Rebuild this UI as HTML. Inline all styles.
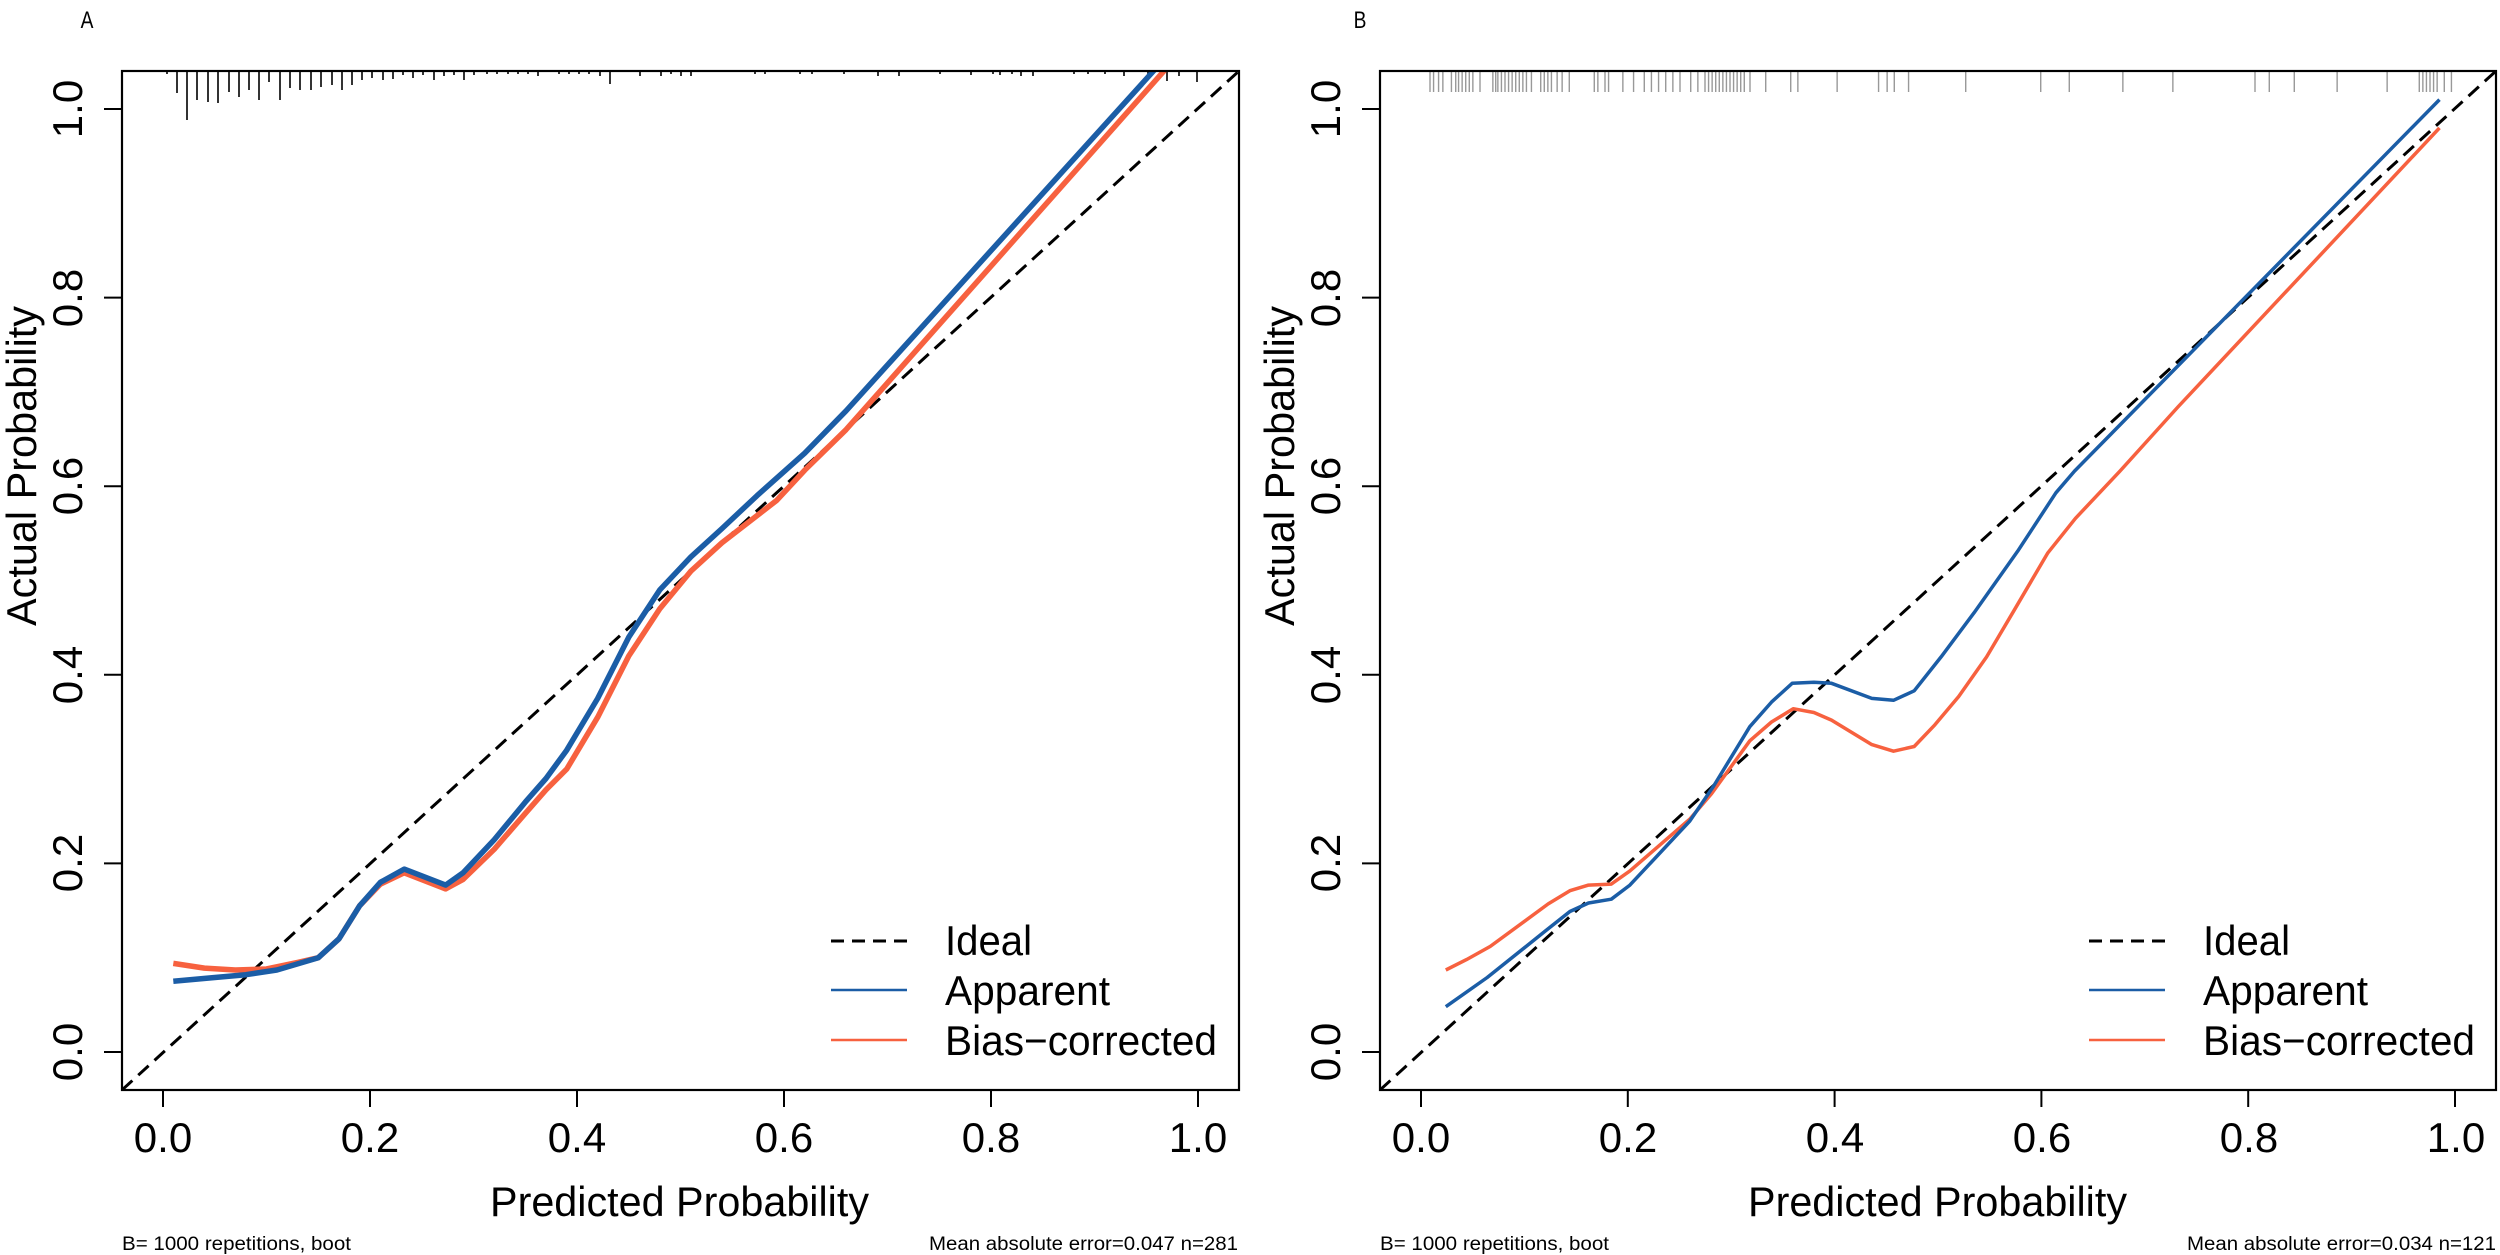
<!DOCTYPE html>
<html><head><meta charset="utf-8">
<style>
html,body{margin:0;padding:0;background:#fff;}
svg{display:block;}
text{font-family:"Liberation Sans",Arial,sans-serif;fill:#000;}
</style></head>
<body>
<svg id="s" width="2500" height="1255" viewBox="0 0 2500 1255" xmlns="http://www.w3.org/2000/svg">
<defs>
<clipPath id="cA"><rect x="122" y="71" width="1117" height="1019"/></clipPath>
<clipPath id="cB"><rect x="1380" y="71" width="1116" height="1019"/></clipPath>
</defs>
<g id="rugA" stroke="#000" stroke-width="1.6"></g>
<g id="rugB" stroke="#999" stroke-width="1.4"></g>
<g id="curves"></g>
<rect x="122" y="71" width="1117" height="1019" fill="none" stroke="#000" stroke-width="2.2"/>
<rect x="1380" y="71" width="1116" height="1019" fill="none" stroke="#000" stroke-width="2.2"/>
<g id="ticks" stroke="#000" stroke-width="2"></g>

<text x="87" y="28" font-size="24" text-anchor="middle" transform="translate(87,0) scale(0.8,1) translate(-87,0)">A</text>
<text x="1360" y="28" font-size="24" text-anchor="middle" transform="translate(1360,0) scale(0.8,1) translate(-1360,0)">B</text>

<g font-size="42" text-anchor="middle">
<text x="163" y="1152">0.0</text><text x="370" y="1152">0.2</text><text x="577" y="1152">0.4</text><text x="784" y="1152">0.6</text><text x="991" y="1152">0.8</text><text x="1198" y="1152">1.0</text>
<text x="1421" y="1152">0.0</text><text x="1628" y="1152">0.2</text><text x="1835" y="1152">0.4</text><text x="2042" y="1152">0.6</text><text x="2249" y="1152">0.8</text><text x="2456" y="1152">1.0</text>
</g>
<g font-size="42" text-anchor="middle">
<text transform="translate(82,1052) rotate(-90)">0.0</text>
<text transform="translate(82,863) rotate(-90)">0.2</text>
<text transform="translate(82,675) rotate(-90)">0.4</text>
<text transform="translate(82,486) rotate(-90)">0.6</text>
<text transform="translate(82,298) rotate(-90)">0.8</text>
<text transform="translate(82,109) rotate(-90)">1.0</text>
<text transform="translate(1340,1052) rotate(-90)">0.0</text>
<text transform="translate(1340,863) rotate(-90)">0.2</text>
<text transform="translate(1340,675) rotate(-90)">0.4</text>
<text transform="translate(1340,486) rotate(-90)">0.6</text>
<text transform="translate(1340,298) rotate(-90)">0.8</text>
<text transform="translate(1340,109) rotate(-90)">1.0</text>
</g>
<g font-size="42">
<text x="490" y="1216" textLength="379" lengthAdjust="spacingAndGlyphs">Predicted Probability</text>
<text x="1748" y="1216" textLength="379" lengthAdjust="spacingAndGlyphs">Predicted Probability</text>
<text transform="translate(36,626) rotate(-90)" textLength="320" lengthAdjust="spacingAndGlyphs">Actual Probability</text>
<text transform="translate(1294,626) rotate(-90)" textLength="320" lengthAdjust="spacingAndGlyphs">Actual Probability</text>
</g>
<g font-size="19">
<text x="122" y="1250" textLength="229" lengthAdjust="spacingAndGlyphs">B= 1000 repetitions, boot</text>
<text x="929" y="1250" textLength="309" lengthAdjust="spacingAndGlyphs">Mean absolute error=0.047 n=281</text>
<text x="1380" y="1250" textLength="229" lengthAdjust="spacingAndGlyphs">B= 1000 repetitions, boot</text>
<text x="2187" y="1250" textLength="309" lengthAdjust="spacingAndGlyphs">Mean absolute error=0.034 n=121</text>
</g>
<g>
<line x1="831" y1="941" x2="907" y2="941" stroke="#000" stroke-width="3" stroke-dasharray="13,8"/>
<line x1="831" y1="990" x2="907" y2="990" stroke="#1B5DA6" stroke-width="2.5"/>
<line x1="831" y1="1040" x2="907" y2="1040" stroke="#F7613F" stroke-width="2.5"/>
<g font-size="42">
<text x="945" y="955" textLength="87" lengthAdjust="spacingAndGlyphs">Ideal</text>
<text x="945" y="1005" textLength="165" lengthAdjust="spacingAndGlyphs">Apparent</text>
<text x="945" y="1055" textLength="272" lengthAdjust="spacingAndGlyphs">Bias−corrected</text>
</g>
</g>
<g transform="translate(1258,0)">
<line x1="831" y1="941" x2="907" y2="941" stroke="#000" stroke-width="3" stroke-dasharray="13,8"/>
<line x1="831" y1="990" x2="907" y2="990" stroke="#1B5DA6" stroke-width="2.5"/>
<line x1="831" y1="1040" x2="907" y2="1040" stroke="#F7613F" stroke-width="2.5"/>
<g font-size="42">
<text x="945" y="955" textLength="87" lengthAdjust="spacingAndGlyphs">Ideal</text>
<text x="945" y="1005" textLength="165" lengthAdjust="spacingAndGlyphs">Apparent</text>
<text x="945" y="1055" textLength="272" lengthAdjust="spacingAndGlyphs">Bias−corrected</text>
</g>
</g>
</svg>
<script>
var NS="http://www.w3.org/2000/svg";
function el(p,t,a){var e=document.createElementNS(NS,t);for(var k in a)e.setAttribute(k,a[k]);p.appendChild(e);return e;}
var Y=function(v){return 1052-943*v;};
var XA=function(p){return 163+1035*p;};
var XB=function(p){return 1421+1034*p;};
var tk=document.getElementById('ticks');
[0,0.2,0.4,0.6,0.8,1].forEach(function(v){
 el(tk,'line',{x1:XA(v),y1:1090,x2:XA(v),y2:1107});
 el(tk,'line',{x1:XB(v),y1:1090,x2:XB(v),y2:1107});
 el(tk,'line',{x1:122,y1:Y(v),x2:104,y2:Y(v)});
 el(tk,'line',{x1:1380,y1:Y(v),x2:1362,y2:Y(v)});
});
var rugA=[[167,74],[177,93],[187,120],[197,100],[208,102],[218,103],[229,92],[239,97],[249,90],[259,100],[269,82],[280,100],[290,88],[300,90],[311,90],[321,87],[332,85],[342,90],[352,85],[362,80],[372,78],[383,80],[393,79],[403,75],[413,78],[423,75],[434,80],[444,76],[454,75],[464,80],[474,75],[487,74],[497,74],[508,74],[518,74],[528,74],[538,76],[559,74],[569,74],[579,74],[589,74],[600,76],[610,84],[640,76],[661,76],[671,74],[681,76],[691,76],[755,74],[765,74],[800,74],[812,74],[844,74],[878,76],[899,76],[940,74],[971,75],[993,74],[1000,75],[1012,74],[1021,76],[1033,76],[1074,74],[1088,74],[1105,74],[1124,76],[1148,74],[1167,81],[1179,76],[1197,82]];
var rA=document.getElementById('rugA');
rugA.forEach(function(r){el(rA,'line',{x1:r[0],y1:71,x2:r[0],y2:r[1]});});
var zb=[70,75,82,88,100,106,110,115,120,125,130,140,158,162,165,170,175,180,185,190,195,200,205,212,225,230,235,240,248,255,265,300,305,315,320,340,355,370,380,390,400,410,420,435,445,455,460,465,470,475,480,485,490,495,500,505,510,518,540,575,585,640,698,710,720,740,820,925,965,1040,1110,1225,1245,1280,1340,1410,1455,1460,1465,1470,1475,1480,1490,1500];
var rB=document.getElementById('rugB');
zb.forEach(function(z){var x=1380+z/1.4;el(rB,'line',{x1:x,y1:71,x2:x,y2:92});});
function path(pts,X){return pts.map(function(p,i){return (i?'L':'M')+X(p[0]).toFixed(1)+','+Y(p[1]).toFixed(1);}).join(' ');}
var Ab=[[0.01,0.075],[0.05,0.079],[0.08,0.082],[0.11,0.087],[0.15,0.10],[0.17,0.12],[0.19,0.155],[0.21,0.18],[0.233,0.194],[0.273,0.177],[0.29,0.19],[0.32,0.225],[0.35,0.265],[0.37,0.29],[0.39,0.32],[0.42,0.375],[0.45,0.44],[0.48,0.49],[0.51,0.525],[0.54,0.555],[0.574,0.59],[0.62,0.635],[0.66,0.68],[0.965,1.05]];
var Ar=[[0.01,0.094],[0.04,0.089],[0.07,0.087],[0.10,0.088],[0.13,0.095],[0.15,0.10],[0.17,0.12],[0.19,0.155],[0.21,0.178],[0.233,0.19],[0.273,0.173],[0.29,0.183],[0.32,0.215],[0.35,0.253],[0.37,0.278],[0.39,0.30],[0.42,0.355],[0.45,0.42],[0.48,0.47],[0.51,0.51],[0.54,0.54],[0.593,0.585],[0.62,0.617],[0.66,0.66],[0.975,1.05]];
var Bb=[[0.024,0.048],[0.064,0.079],[0.121,0.129],[0.144,0.149],[0.162,0.158],[0.184,0.162],[0.202,0.177],[0.26,0.245],[0.283,0.282],[0.318,0.345],[0.339,0.371],[0.359,0.391],[0.38,0.392],[0.397,0.391],[0.436,0.375],[0.457,0.373],[0.477,0.383],[0.503,0.419],[0.535,0.466],[0.577,0.531],[0.614,0.593],[0.632,0.616],[0.676,0.665],[0.985,1.01]];
var Br=[[0.024,0.087],[0.044,0.098],[0.067,0.112],[0.123,0.157],[0.144,0.171],[0.162,0.177],[0.184,0.178],[0.202,0.192],[0.26,0.247],[0.281,0.274],[0.318,0.33],[0.339,0.35],[0.36,0.364],[0.38,0.36],[0.397,0.352],[0.436,0.326],[0.457,0.319],[0.477,0.324],[0.497,0.347],[0.52,0.377],[0.547,0.419],[0.574,0.469],[0.606,0.529],[0.633,0.566],[0.676,0.616],[0.732,0.684],[0.985,0.98]];
var c=document.getElementById('curves');
var gA=el(c,'g',{'clip-path':'url(#cA)',fill:'none','stroke-linejoin':'round'});
el(gA,'line',{x1:122,y1:1090,x2:1239,y2:71,stroke:'#000','stroke-width':3,'stroke-dasharray':'14,8'});
el(gA,'path',{d:path(Ar,XA),stroke:'#F7613F','stroke-width':5.5});
el(gA,'path',{d:path(Ab,XA),stroke:'#1B5DA6','stroke-width':5.5});
var gB=el(c,'g',{'clip-path':'url(#cB)',fill:'none','stroke-linejoin':'round'});
el(gB,'line',{x1:1380,y1:1090,x2:2496,y2:71,stroke:'#000','stroke-width':3,'stroke-dasharray':'14,8'});
el(gB,'path',{d:path(Br,XB),stroke:'#F7613F','stroke-width':3.5});
el(gB,'path',{d:path(Bb,XB),stroke:'#1B5DA6','stroke-width':3.5});
</script>
</body></html>
